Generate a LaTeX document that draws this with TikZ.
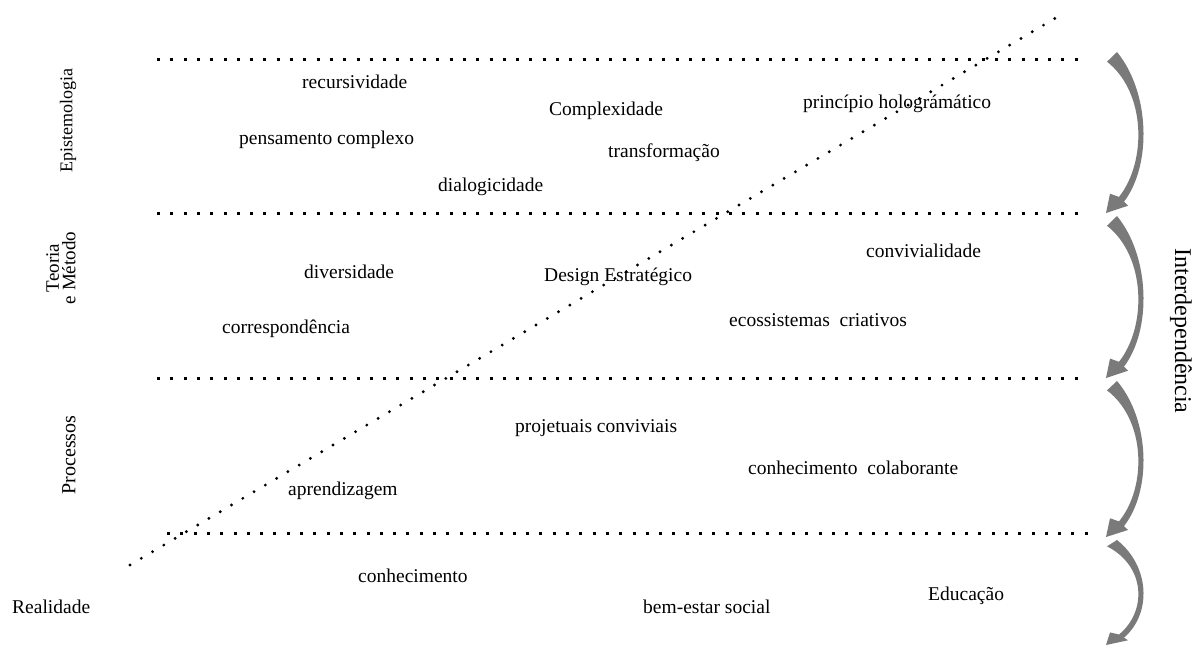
\documentclass[tikz,border=0pt]{standalone}
\usepackage{fontspec}
\setmainfont{Liberation Serif}
\begin{document}
\begin{tikzpicture}[x=1pt,y=-1pt,
  lbl/.style={anchor=base west,inner sep=0pt,font=\fontsize{19.5}{23}\selectfont},
  side/.style={inner sep=0pt,rotate=90,font=\fontsize{18}{15}\selectfont},
  sqline/.style={line width=3pt,dash pattern=on 3pt off 10.3pt},
  rdline/.style={line width=3.2pt,line cap=round,dash pattern=on 0pt off 13.1pt},
  carrow/.style={fill=black!52,draw=none}]
\useasboundingbox (0,0) rectangle (1198,648);
% horizontal dotted lines
\coordinate (l1a) at (157,59);  \coordinate (l1b) at (1084,59);
\coordinate (l2a) at (157,213); \coordinate (l2b) at (1084,213);
\coordinate (l3a) at (157,378); \coordinate (l3b) at (1084,378);
\coordinate (l4a) at (167,533); \coordinate (l4b) at (1092,533);
\draw[sqline] (l1a) -- (l1b);
\draw[sqline] (l2a) -- (l2b);
\draw[sqline] (l3a) -- (l3b);
\draw[sqline] (l4a) -- (l4b);
% diagonal
\coordinate (da) at (130,565); \coordinate (db) at (1064,13);
\draw[rdline] (da) -- (db);
% curved arrows
\newcommand\myarrow[2]{%
\begin{scope}[shift={(0,#1)},y={(0pt,-#2pt)}]
\fill[carrow] (1117,0) .. controls (1150,0.25) and (1152,0.7) .. (1124,0.93)
  -- (1128,0.955) -- (1106,1.0) -- (1110,0.88) -- (1119,0.9)
  .. controls (1147,0.68) and (1146,0.25) .. (1107,0.06) -- cycle;
\end{scope}}
\myarrow{52}{161}
\myarrow{216}{162}
\myarrow{381}{156}
\myarrow{540}{105}
% side labels
\node[side] (epi) at (68,121) {Epistemologia};
\node[side,align=center,font=\fontsize{19}{16.5}\selectfont] (tm) at (61,268) {Teoria\\e Método};
\node[side,font=\fontsize{20}{24}\selectfont] (proc) at (69,455) {Processos};
\node[inner sep=0pt,rotate=-90,font=\fontsize{24}{28}\selectfont] (inter) at (1181,331) {Interdependência};
% words
\node[lbl] (w1) at (302,88) {recursividade};
\node[lbl] (w2) at (549,115) {Complexidade};
\node[lbl] (w3) at (803,108) {princípio holográmático};
\node[lbl] (w4) at (239,144) {pensamento complexo};
\node[lbl] (w5) at (608,157) {transformação};
\node[lbl] (w6) at (438,191) {dialogicidade};
\node[lbl] (w7) at (866,257) {convivialidade};
\node[lbl] (w8) at (304,278) {diversidade};
\node[lbl] (w9) at (544,281) {Design Estratégico};
\node[lbl] (w10) at (222,333) {correspondência};
\node[lbl] (w11) at (729,326) {ecossistemas\ \ criativos};
\node[lbl] (w12) at (515,432) {projetuais conviviais};
\node[lbl] (w13) at (748,474) {conhecimento\ \ colaborante};
\node[lbl] (w14) at (288,495) {aprendizagem};
\node[lbl] (w15) at (358,582) {conhecimento};
\node[lbl] (w16) at (12,613) {Realidade};
\node[lbl] (w17) at (643,613) {bem-estar social};
\node[lbl] (w18) at (928,600) {Educação};
\end{tikzpicture}
\end{document}
